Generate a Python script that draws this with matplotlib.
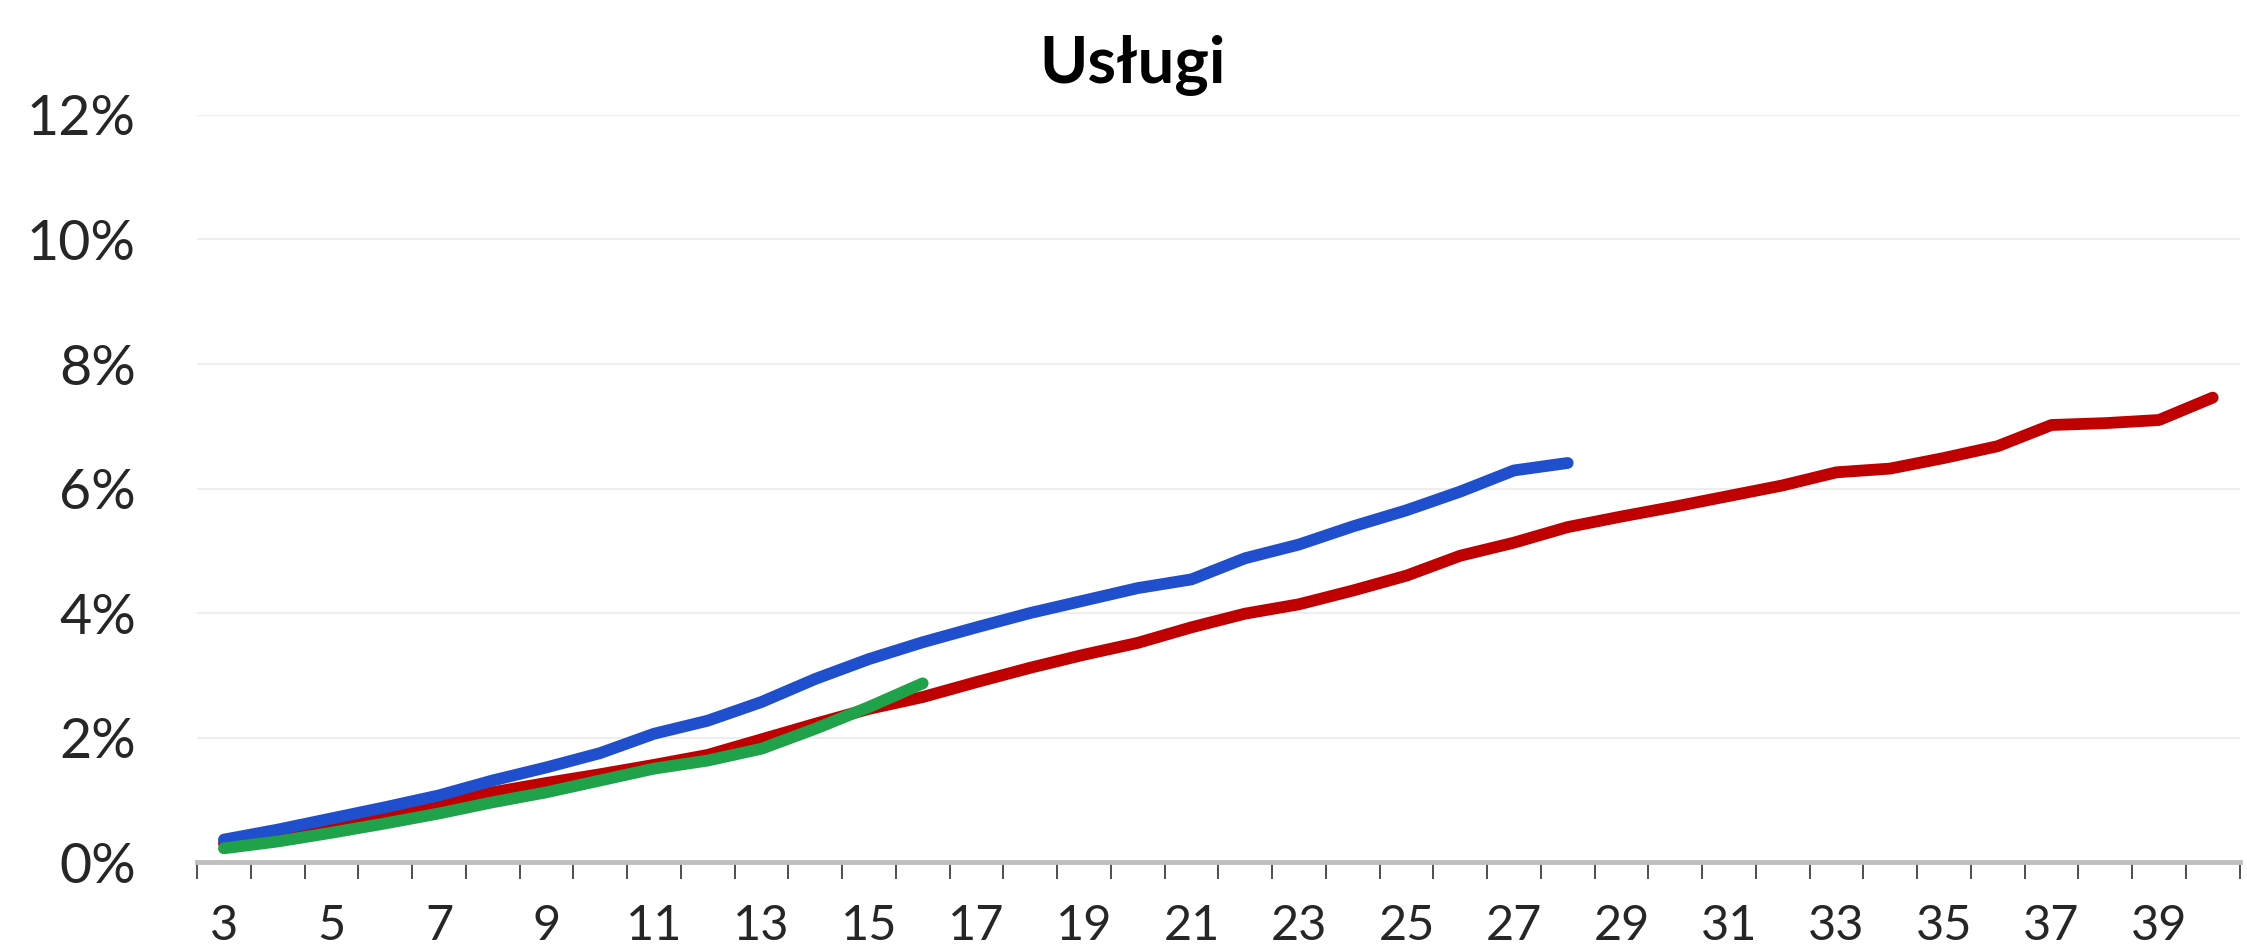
import numpy as np
import matplotlib
matplotlib.use('Agg')
import matplotlib.pyplot as plt
from matplotlib.ticker import FixedLocator, PercentFormatter

plt.rcParams['font.family'] = ['Lato', 'DejaVu Sans']

# weeks / categories on the x axis
cats_red = list(range(3, 41))
cats_blue = list(range(3, 29))
cats_green = list(range(3, 17))

# cumulative share, in percent
red = [0.30, 0.45, 0.60, 0.78, 0.96, 1.12, 1.27, 1.41, 1.56, 1.72,
       1.97, 2.22, 2.46, 2.65, 2.89, 3.12, 3.33, 3.52, 3.77, 3.99,
       4.14, 4.36, 4.60, 4.92, 5.13, 5.38, 5.55, 5.71, 5.88, 6.05,
       6.26, 6.32, 6.49, 6.68, 7.02, 7.05, 7.10, 7.46]
blue = [0.36, 0.52, 0.70, 0.88, 1.07, 1.31, 1.52, 1.75, 2.06, 2.27,
        2.57, 2.94, 3.26, 3.53, 3.77, 4.00, 4.20, 4.40, 4.54, 4.88,
        5.10, 5.39, 5.65, 5.95, 6.29, 6.41]
green = [0.22, 0.33, 0.47, 0.62, 0.78, 0.96, 1.12, 1.31, 1.50, 1.63,
         1.82, 2.14, 2.49, 2.87]

title = 'Usługi'
yticks = [0, 2, 4, 6, 8, 10, 12]
xlabels = list(range(3, 41, 2))

fig = plt.figure(figsize=(22.47, 9.48), dpi=100)
ax = fig.add_axes([0.0877, 0.0907, 0.909, 0.788])

lw = 8.5
ax.plot(cats_red, red, color='#c00000', lw=lw, solid_capstyle='round',
        solid_joinstyle='round', zorder=3)
ax.plot(cats_blue, blue, color='#1f4fcc', lw=lw, solid_capstyle='round',
        solid_joinstyle='round', zorder=4)
ax.plot(cats_green, green, color='#1fa24a', lw=lw, solid_capstyle='round',
        solid_joinstyle='round', zorder=5)

ax.set_xlim(2.5, 40.5)
ax.set_ylim(0, 12)

# y axis: faint gridlines, no spine
ax.set_yticks(yticks)
ax.yaxis.set_major_formatter(PercentFormatter(decimals=0))
ax.tick_params(axis='y', length=0, pad=44, labelsize=40, labelcolor='#262626')
ax.grid(axis='y', color='#eeeeee', lw=1.5, zorder=0)

# x axis: ticks between categories, labels every other category
ax.xaxis.set_major_locator(FixedLocator(np.arange(2.5, 41, 1)))
ax.xaxis.set_minor_locator(FixedLocator(xlabels))
ax.set_xticklabels([], minor=False)
ax.set_xticklabels([str(v) for v in xlabels], minor=True)
ax.tick_params(axis='x', which='major', length=12, width=1.3,
               color='#404040', direction='out')
ax.tick_params(axis='x', which='minor', length=0, pad=30, labelsize=35,
               labelcolor='#262626')

for s in ['top', 'right', 'left']:
    ax.spines[s].set_visible(False)
ax.spines['bottom'].set_color('#bfbfbf')
ax.spines['bottom'].set_linewidth(3.5)
ax.spines['bottom'].set_zorder(2)

fig.text(0.504, 0.912, title, ha='center', va='baseline', fontsize=47,
         fontweight='bold', color='#000000')

fig.savefig('out.png', dpi=100, facecolor='white')
